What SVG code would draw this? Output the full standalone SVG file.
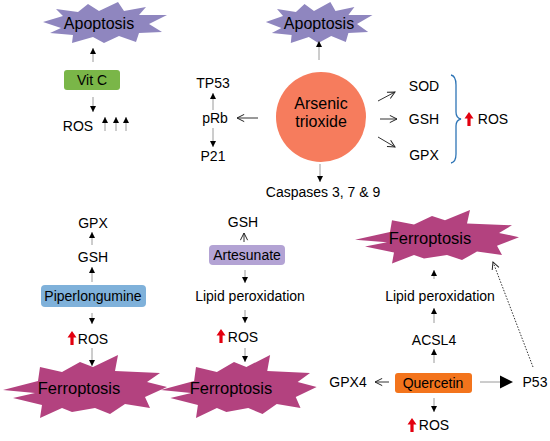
<svg xmlns="http://www.w3.org/2000/svg" width="550" height="441" viewBox="0 0 550 441">
<style>
text{font-family:"Liberation Sans",Arial,sans-serif;font-size:14px;fill:#000;text-anchor:middle}
.big{font-size:16px}
.fbig{font-size:16.5px}
.ln{stroke:#9a9a9a;stroke-width:1;fill:none}
.op{stroke:#333;stroke-width:1;fill:none}
.apo{fill:#8f86bf}
.fer{fill:#b3427f}
.red{fill:#e3000f}
</style>
<defs>
<marker id="fh" viewBox="0 0 8 8" markerWidth="6" markerHeight="6" refX="8" refY="4" orient="auto" markerUnits="userSpaceOnUse"><path d="M0,0 L8,4 L0,8 z" fill="#000"/></marker>
<marker id="oh" viewBox="0 0 10 10" markerWidth="9" markerHeight="9" refX="9" refY="5" orient="auto" markerUnits="userSpaceOnUse"><path d="M1,1 L9,5 L1,9" fill="none" stroke="#222" stroke-width="1.1"/></marker>
<path id="apoStar" d="M-56,-2 L-36,-8 L-43,-15 L-21,-12 L-11,-20 L0,-13 L19,-22 L25,-13 L47,-17 L40,-9 L68,-9 L50,0 L63,8 L40,9 L37,18 L20,12 L5,19 L-6,13 L-27,19 L-26,11 L-49,9 L-38,4 Z"/>
<path id="ferStar" d="M-77,2 L-42,-7 L-40,-21 L-18,-16 L0,-26 L13,-21 L38,-33 L35,-17 L80,-15 L67,-6 L87,-1 L65,9 L70,20 L45,16 L30,26 L15,20 L-8,24 L-18,20 L-40,30 L-38,17 L-67,10 L-45,5 Z"/>
<path id="redUp" d="M0,0 L4.5,6.5 L1.6,6.5 L1.6,14 L-1.6,14 L-1.6,6.5 L-4.5,6.5 Z"/>
</defs>

<g id="apoptosis-left">
<use href="#apoStar" class="apo" transform="translate(99,24)"/>
<text x="99" y="29" class="big">Apoptosis</text>
</g>
<g id="vitc">
<rect x="64" y="70" width="56" height="20" rx="3" fill="#7ab648"/>
<text x="92" y="85">Vit C</text>
</g>
<g id="ros-vitc">
<text x="78" y="131">ROS</text>
</g>

<g id="apoptosis-mid">
<use href="#apoStar" class="apo" transform="translate(314,24) scale(0.86,1)"/>
<text x="319" y="29" class="big">Apoptosis</text>
</g>
<g id="arsenic">
<circle cx="321" cy="117" r="45" fill="#f67c5d"/>
<text x="321" y="109" class="big">Arsenic</text>
<text x="321" y="127" class="big">trioxide</text>
</g>
<g id="prb"><text x="215" y="123">pRb</text></g>
<g id="tp53"><text x="213" y="88">TP53</text></g>
<g id="p21"><text x="213" y="161">P21</text></g>
<g id="caspases"><text x="323" y="197">Caspases 3, 7 &amp; 9</text></g>
<g id="sod"><text x="424" y="91">SOD</text></g>
<g id="gsh-ars"><text x="424" y="124">GSH</text></g>
<g id="gpx-ars"><text x="424" y="160">GPX</text></g>
<g id="ros-ars">
<path d="M451,75 Q456,76 456,85 L456,112 Q456,118 461,119 Q456,120 456,126 L456,154 Q456,162 451,163" fill="none" stroke="#2e75b6" stroke-width="1.3"/>
<use href="#redUp" class="red" transform="translate(469,112)"/>
<text x="493" y="124">ROS</text>
</g>

<g id="gpx-pip"><text x="93" y="228">GPX</text></g>
<g id="gsh-pip"><text x="93" y="262">GSH</text></g>
<g id="piperlongumine">
<rect x="41" y="285" width="105" height="22" rx="4" fill="#7fb1da"/>
<text x="93" y="301">Piperlongumine</text>
</g>
<g id="ros-pip">
<use href="#redUp" class="red" transform="translate(72,331)"/>
<text x="93" y="344">ROS</text>
</g>
<g id="ferroptosis-left">
<use href="#ferStar" class="fer" transform="translate(80,388)"/>
<text x="79" y="394" class="fbig">Ferroptosis</text>
</g>

<g id="gsh-art"><text x="243" y="227">GSH</text></g>
<g id="artesunate">
<rect x="209" y="245" width="76" height="20" rx="4" fill="#b3a3d4"/>
<text x="247" y="260">Artesunate</text>
</g>
<g id="lipid-art"><text x="250" y="301">Lipid peroxidation</text></g>
<g id="ros-art">
<use href="#redUp" class="red" transform="translate(221,329)"/>
<text x="243" y="342">ROS</text>
</g>
<g id="ferroptosis-mid">
<use href="#ferStar" class="fer" transform="translate(234,388) scale(0.95,1)"/>
<text x="231" y="394" class="fbig">Ferroptosis</text>
</g>

<g id="ferroptosis-right">
<use href="#ferStar" class="fer" transform="translate(432,238) scale(1,0.85)"/>
<text x="430" y="244" class="fbig">Ferroptosis</text>
</g>
<g id="lipid-q"><text x="440" y="301">Lipid peroxidation</text></g>
<g id="acsl4"><text x="434" y="345">ACSL4</text></g>
<g id="quercetin">
<rect x="395" y="373" width="77" height="20" rx="3" fill="#f3741c"/>
<text x="433" y="388">Quercetin</text>
</g>
<g id="gpx4"><text x="348" y="387">GPX4</text></g>
<g id="p53"><text x="535" y="387">P53</text></g>
<g id="ros-q">
<use href="#redUp" class="red" transform="translate(412,418)"/>
<text x="434" y="430">ROS</text>
</g>

<g id="connectors">
<g marker-end="url(#fh)" class="ln">
<line x1="93" y1="62" x2="93" y2="48"/>
<line x1="93" y1="97" x2="93" y2="112"/>
<line x1="105" y1="131" x2="105" y2="117"/>
<line x1="116" y1="131" x2="116" y2="117"/>
<line x1="126" y1="131" x2="126" y2="117"/>
<line x1="319" y1="60" x2="319" y2="41"/>
<line x1="213" y1="110" x2="213" y2="93"/>
<line x1="213" y1="128" x2="213" y2="147"/>
<line x1="320" y1="164" x2="320" y2="182"/>
<line x1="92" y1="245" x2="92" y2="232"/>
<line x1="92" y1="282" x2="92" y2="267"/>
<line x1="92" y1="313" x2="92" y2="324"/>
<line x1="92" y1="348" x2="92" y2="366"/>
<line x1="245" y1="270" x2="245" y2="283"/>
<line x1="245" y1="310" x2="245" y2="323"/>
<line x1="245" y1="348" x2="245" y2="362"/>
<line x1="434" y1="363" x2="434" y2="349"/>
<line x1="434" y1="323" x2="434" y2="308"/>
<line x1="434" y1="279" x2="434" y2="270"/>
<line x1="434" y1="398" x2="434" y2="412"/>
</g>
<line x1="480" y1="382" x2="500" y2="382" class="ln"/>
<path d="M500,375.5 L513,382 L500,388.5 Z" fill="#000"/>
<g marker-end="url(#oh)" class="op">
<line x1="258" y1="118" x2="237" y2="118"/>
<line x1="378" y1="101" x2="395" y2="92"/>
<line x1="380" y1="119" x2="397" y2="119"/>
<line x1="378" y1="137" x2="395" y2="147"/>
<line x1="244" y1="242" x2="244" y2="233"/>
<line x1="389" y1="382" x2="375" y2="382"/>
<line x1="533" y1="367" x2="493" y2="262" stroke-dasharray="1.5,1.5"/>
</g>
</g>
</svg>
